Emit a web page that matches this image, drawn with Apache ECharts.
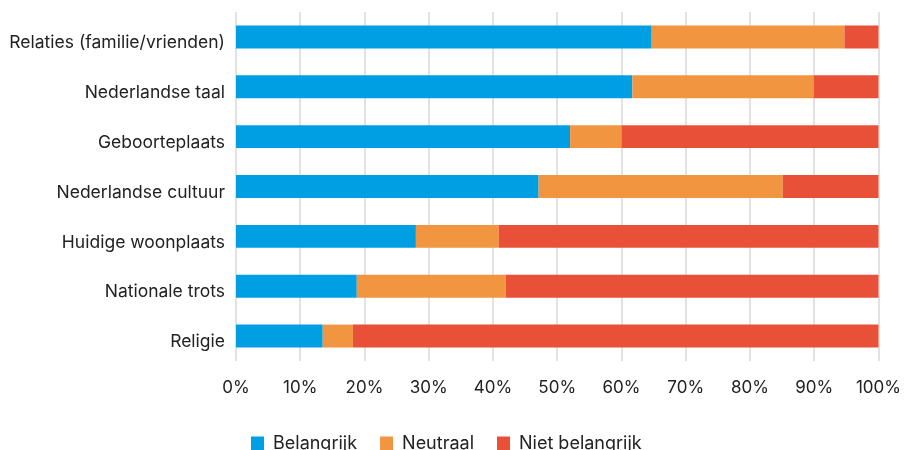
<!DOCTYPE html>
<html>
<head>
<meta charset="utf-8">
<script src="https://cdn.jsdelivr.net/npm/echarts@6/dist/echarts.min.js"></script>
<style>
html,body{margin:0;padding:0;background:#fff;}
#chart{width:904px;height:450px;}
</style>
</head>
<body>
<div id="chart"></div>
<script>
const categories = ["Relaties (familie/vrienden)", "Nederlandse taal", "Geboorteplaats", "Nederlandse cultuur", "Huidige woonplaats", "Nationale trots", "Religie"];
const belangrijk = [64.7, 61.7, 52, 47.1, 28, 18.8, 13.5];
const neutraal = [30.0, 28.2, 8, 38.0, 12.9, 23.2, 4.7];
const nietBelangrijk = [5.3, 10.1, 40, 14.9, 59.1, 58.0, 81.8];
const seriesNames = ["Belangrijk", "Neutraal", "Niet belangrijk"];
const colors = ["#009FE3", "#F29540", "#E85137"];

const chart = echarts.init(document.getElementById('chart'));
const font = "Inter, 'Noto Sans', sans-serif";
const mk = (name, data, color) => ({
  name, type: 'bar', stack: 'total', data, barWidth: '46%',
  itemStyle: { color }, emphasis: { disabled: true }
});
chart.setOption({
  animation: false,
  textStyle: { fontFamily: font },
  grid: { left: 236, right: 25, top: 12, bottom: 89, containLabel: false },
  legend: {
    top: 430, left: 246,
    itemWidth: 13, itemHeight: 15, itemGap: 23,
    icon: 'rect',
    textStyle: { fontSize: 18, color: '#222', fontFamily: font, padding: [0,0,0,4] },
    data: seriesNames
  },
  xAxis: {
    type: 'value', min: 0, max: 100, interval: 10,
    axisLabel: { formatter: '{value}%', fontSize: 17, color: '#222', margin: 18 },
    axisLine: { show: false }, axisTick: { show: false },
    splitLine: { show: true, lineStyle: { color: '#e2e2e2', width: 2 } }
  },
  yAxis: {
    type: 'category', data: categories, inverse: true,
    axisLine: { show: false }, axisTick: { show: false },
    axisLabel: { fontSize: 17.5, color: '#222', margin: 11, verticalAlign: 'top', lineHeight: 12 }
  },
  series: [
    mk(seriesNames[0], belangrijk, colors[0]),
    mk(seriesNames[1], neutraal, colors[1]),
    mk(seriesNames[2], nietBelangrijk, colors[2])
  ]
});
</script>
</body>
</html>
